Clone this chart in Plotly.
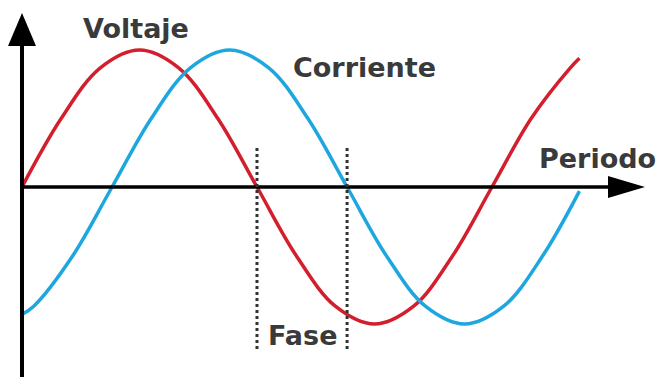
import plotly.graph_objects as go

# Dati (x in gradi, y in ampiezza normalizzata)
voltaje_x = [0, 30, 60, 90, 120, 150, 180, 210, 240, 270, 300, 330, 360, 390, 420, 427]
voltaje_y = [0, 0.5, 0.87, 1, 0.87, 0.5, 0, -0.5, -0.87, -1, -0.87, -0.5, 0, 0.5, 0.87, 0.94]

corriente_x = [0, 9, 39, 69, 99, 129, 159, 189, 219, 249, 279, 309, 339, 369, 399, 427]
corriente_y = [-0.93, -0.87, -0.5, 0, 0.5, 0.87, 1, 0.87, 0.5, 0, -0.5, -0.87, -1, -0.87, -0.5, -0.03]

# Linee della fase (dove le due curve passano per lo zero)
fase_x = [180, 249]

W, H = 662, 377
PX = 0.766   # gradi per pixel
PY = 1 / 137  # ampiezza per pixel
X0, Y0 = 22, 187  # origine in pixel

def px_x(p):
    return (p - X0) * PX

def px_y(p):
    return (Y0 - p) * PY

fig = go.Figure()

fig.add_trace(go.Scatter(x=voltaje_x, y=voltaje_y, mode='lines', line_shape='spline',
                         line=dict(color='#d31f2d', width=3.5), hoverinfo='skip'))
fig.add_trace(go.Scatter(x=corriente_x, y=corriente_y, mode='lines', line_shape='spline',
                         line=dict(color='#1ea7de', width=3.5), hoverinfo='skip'))

shapes = []
# asse verticale
shapes.append(dict(type='line', x0=0, x1=0, y0=px_y(40), y1=px_y(380),
                   line=dict(color='black', width=4), layer='above'))
shapes.append(dict(type='path', fillcolor='black', line=dict(width=0), layer='above',
                   path=f'M {px_x(8)} {px_y(46)} L {px_x(22)} {px_y(13)} L {px_x(36)} {px_y(46)} Z'))
# asse orizzontale
shapes.append(dict(type='line', x0=0, x1=px_x(612), y0=0, y1=0,
                   line=dict(color='black', width=3.5), layer='above'))
shapes.append(dict(type='path', fillcolor='black', line=dict(width=0), layer='above',
                   path=f'M {px_x(608)} {px_y(176)} L {px_x(645)} {px_y(187)} L {px_x(608)} {px_y(198)} Z'))
# linee tratteggiate della fase
for fx in fase_x:
    shapes.append(dict(type='line', x0=fx, x1=fx, y0=px_y(148), y1=px_y(352),
                       line=dict(color='#333333', width=3, dash='dot'), layer='above'))

font = dict(family='DejaVu Sans', size=27, color='#3a3a3a', weight='bold')
labels = [('Voltaje', 136, 28), ('Corriente', 364, 68), ('Periodo', 597, 158), ('Fase', 302, 335)]
annotations = [dict(text=t, x=cx / W, y=1 - cy / H, xref='paper', yref='paper',
                    showarrow=False, xanchor='center', yanchor='middle', font=font)
               for t, cx, cy in labels]

fig.update_layout(
    width=W, height=H,
    margin=dict(l=0, r=0, t=0, b=0),
    paper_bgcolor='white', plot_bgcolor='white',
    showlegend=False,
    shapes=shapes,
    annotations=annotations,
    xaxis=dict(range=[px_x(0), px_x(W)], visible=False, fixedrange=True),
    yaxis=dict(range=[px_y(H), px_y(0)], visible=False, fixedrange=True),
)

# niente margine della pagina, così il grafico parte dall'angolo
fig.write_html("out.html", post_script="document.body.style.margin='0';",
               config={'displayModeBar': False})
